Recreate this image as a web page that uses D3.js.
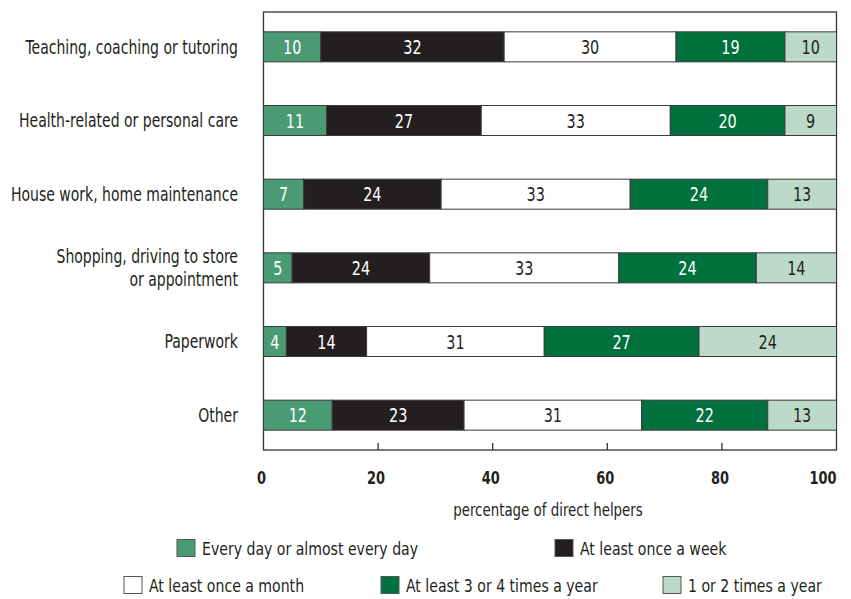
<!DOCTYPE html>
<html>
<head>
<meta charset="utf-8">
<script src="https://cdn.jsdelivr.net/npm/d3@7"></script>
<style>
  body { margin: 0; background: #fff; }
  svg text { font-family: "DejaVu Sans Condensed", "DejaVu Sans", sans-serif; fill: #231f20; }
</style>
</head>
<body>
<svg width="851" height="599"></svg>
<script>
// categories, top to bottom
const categories = [
  ["Teaching, coaching or tutoring"],
  ["Health-related or personal care"],
  ["House work, home maintenance"],
  ["Shopping, driving to store", "or appointment"],
  ["Paperwork"],
  ["Other"]
];
const series = [
  "Every day or almost every day",
  "At least once a week",
  "At least once a month",
  "At least 3 or 4 times a year",
  "1 or 2 times a year"
];
// one array of values per series, in category order
const everyDay   = [10, 11, 7, 5, 4, 12];
const weekly     = [32, 27, 24, 24, 14, 23];
const monthly    = [30, 33, 33, 33, 31, 31];
const fewPerYear = [19, 20, 24, 24, 27, 22];
const onceTwice  = [10, 9, 13, 14, 24, 13];
const xTicks = [0, 20, 40, 60, 80, 100];

const values = [everyDay, weekly, monthly, fewPerYear, onceTwice];
const fills = ["#4a9a74", "#231f20", "#ffffff", "#00713d", "#bcd9c9"];
const textFills = ["#ffffff", "#ffffff", "#231f20", "#ffffff", "#231f20"];

var svg = d3.select("svg");

// squeeze text horizontally around its x, the original uses a condensed face
function condense(sel, k) {
  sel.each(function() {
    var ax = +this.getAttribute("x");
    d3.select(this).attr("transform",
      "translate(" + ax + ",0) scale(" + k + ",1) translate(" + (-ax) + ",0)");
  });
}

var x = d3.scaleLinear().domain([0, 100]).range([263.5, 836.5]).clamp(true);
var y = d3.scaleBand().domain(d3.range(categories.length)).range([10, 452]).padding(0);
const barH = 30;
const frameTop = 12, frameBottom = 450;

// stack rows
var rows = categories.map(function(c, i) {
  var cum = 0;
  return values.map(function(v, s) {
    var seg = {row: i, s: s, v: v[i], x0: cum, x1: cum + v[i]};
    cum += v[i];
    return seg;
  });
});

// frame
svg.append("rect")
  .attr("x", x(0)).attr("y", frameTop)
  .attr("width", x(100) - x(0)).attr("height", frameBottom - frameTop)
  .attr("fill", "none").attr("stroke", "#333").attr("stroke-width", 1.3);

// bars
var g = svg.append("g").attr("class", "bars");
rows.forEach(function(row) {
  var cy = y(row[0].row) + y.bandwidth() / 2;
  g.selectAll(null)
    .data(row)
    .enter().append("rect")
    .attr("x", d => x(d.x0))
    .attr("y", cy - barH / 2)
    .attr("width", d => x(d.x1) - x(d.x0))
    .attr("height", barH)
    .attr("fill", d => fills[d.s])
    .attr("stroke", "#3a3a3a")
    .attr("stroke-width", 1);
  g.selectAll(null)
    .data(row)
    .enter().append("text")
    .attr("class", "val")
    .attr("x", d => (x(d.x0) + x(d.x1)) / 2)
    .attr("y", cy)
    .attr("dy", "0.36em")
    .attr("text-anchor", "middle")
    .style("font-size", "20px")
    .style("fill", d => textFills[d.s])
    .text(d => d.v);
});
condense(g.selectAll("text.val"), 0.8);

// category labels
var catG = svg.append("g");
categories.forEach(function(lines, i) {
  var cy = y(i) + y.bandwidth() / 2;
  lines.forEach(function(line, k) {
    catG.append("text")
      .attr("x", 238)
      .attr("y", cy + (k - (lines.length - 1) / 2) * 22.4)
      .attr("dy", "0.36em")
      .attr("text-anchor", "end")
      .style("font-size", "19px")
      .text(line);
  });
});
condense(catG.selectAll("text"), 0.82);

// x axis: inner ticks + labels
svg.append("g").selectAll("line")
  .data(xTicks.slice(1, -1))
  .enter().append("line")
  .attr("x1", d => x(d)).attr("x2", d => x(d))
  .attr("y1", frameBottom).attr("y2", frameBottom - 7)
  .attr("stroke", "#333").attr("stroke-width", 1.3);

var tickG = svg.append("g");
tickG.selectAll("text")
  .data(xTicks)
  .enter().append("text")
  .attr("x", d => d === 100 ? x(d) : x(d) - 2)
  .attr("y", 478)
  .attr("dy", "0.36em")
  .attr("text-anchor", d => d === 100 ? "end" : "middle")
  .style("font-size", "18px")
  .style("font-weight", "bold")
  .text(d => d);
condense(tickG.selectAll("text"), 0.8);

var title = svg.append("text")
  .attr("x", 548).attr("y", 510)
  .attr("dy", "0.36em")
  .attr("text-anchor", "middle")
  .style("font-size", "17px")
  .text("percentage of direct helpers");
condense(title, 0.875);

// legend
const legendPos = [
  {x: 177, y: 548}, {x: 555, y: 548},
  {x: 124, y: 585}, {x: 381, y: 585}, {x: 663, y: 585}
];
var legend = svg.append("g").selectAll("g")
  .data(series)
  .enter().append("g")
  .attr("transform", (d, i) => "translate(" + legendPos[i].x + "," + legendPos[i].y + ")");
legend.append("rect")
  .attr("x", 0).attr("y", -8.5)
  .attr("width", 18).attr("height", 17)
  .attr("fill", (d, i) => fills[i])
  .attr("stroke", "#555").attr("stroke-width", 1);
legend.append("text")
  .attr("x", 25).attr("y", 1)
  .attr("dy", "0.36em")
  .style("font-size", "18px")
  .text(d => d);
condense(legend.selectAll("text"), 0.87);
</script>
</body>
</html>
